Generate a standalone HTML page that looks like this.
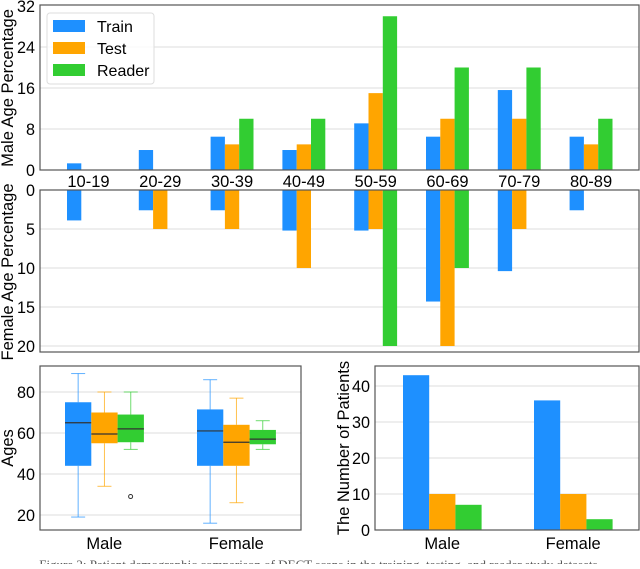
<!DOCTYPE html>
<html><head><meta charset="utf-8"><style>
body{margin:0;background:#fff;}
svg text{font-family:"Liberation Sans",sans-serif;fill:#000;}
</style></head><body>
<svg id="c" width="640" height="564" xmlns="http://www.w3.org/2000/svg"></svg>
<script>
const categories=["10-19","20-29","30-39","40-49","50-59","60-69","70-79","80-89"];
const maleTrain=[1.3,3.9,6.5,3.9,9.1,6.5,15.6,6.5];
const maleTest=[0,0,5,5,15,10,10,5];
const maleReader=[0,0,10,10,30,20,20,10];
const femaleTrain=[3.9,2.6,2.6,5.2,5.2,14.3,10.4,2.6];
const femaleTest=[0,5,5,10,5,20,5,0];
const femaleReader=[0,0,0,0,20,10,0,0];
const maleTicks=[0,8,16,24,32];
const femaleTicks=[0,5,10,15,20];
const sexes=["Male","Female"];
// box stats: [min,q1,median,q3,max]
const boxTrain=[[19,44,65,75,89],[16,44,61,71.5,86]];
const boxTest=[[34,55,59.5,70,80],[26,44,55.5,64,77]];
const boxReader=[[52,55.5,62,69,80],[52,54.5,57,61.5,66]];
const outliers=[[0,2,29]];
const ageTicks=[20,40,60,80];
const countTrain=[43,36];
const countTest=[10,10];
const countReader=[7,3];
const countTicks=[0,10,20,30,40];
const COLORS=["#1e90ff","#ffa500","#32cd32"];
const svg=document.getElementById('c');
const NS="http://www.w3.org/2000/svg";
const FS=16.5;
function mk(tag,attrs,parent,text){const e=document.createElementNS(NS,tag);for(const k in attrs)e.setAttribute(k,attrs[k]);if(text!==undefined)e.textContent=text;(parent||svg).appendChild(e);return e;}
function grp(name){const g=document.createElementNS(NS,'g');svg.appendChild(g);return g;}

const mY=v=>170-v*(164/32);
const fY=v=>190+v*(156/20);
const gx=i=>67+i*71.8;
let g=grp('male-grid');
maleTicks.forEach(t=>{if(t>0&&t<32)mk('line',{x1:40,x2:639,y1:mY(t),y2:mY(t),stroke:'#ddd','stroke-width':1},g);
 const tx=mk('text',{x:35,y:mY(t)+6,'text-anchor':'end','font-size':FS,textLength:String(t).length*9,lengthAdjust:'spacingAndGlyphs'},g,t);});
g=grp('female-grid');
femaleTicks.forEach(t=>{if(t>0)mk('line',{x1:40,x2:639,y1:fY(t),y2:fY(t),stroke:'#ddd','stroke-width':1},g);
 const tx=mk('text',{x:35,y:fY(t)+6,'text-anchor':'end','font-size':FS,textLength:String(t).length*9,lengthAdjust:'spacingAndGlyphs'},g,t);});
const bw=14.3;
g=grp('male-bars');
[maleTrain,maleTest,maleReader].forEach((s,k)=>s.forEach((v,i)=>{if(v<=0)return;const r=mk('rect',{x:gx(i)+k*bw,y:mY(v),width:bw,height:mY(0)-mY(v),fill:COLORS[k]},g);
 }));
g=grp('female-bars');
[femaleTrain,femaleTest,femaleReader].forEach((s,k)=>s.forEach((v,i)=>{if(v<=0)return;const r=mk('rect',{x:gx(i)+k*bw,y:fY(0),width:bw,height:fY(v)-fY(0),fill:COLORS[k]},g);
 }));
g=grp('age-group-labels');
categories.forEach((c,i)=>{const t=mk('text',{x:gx(i)+bw*1.5,y:187,'text-anchor':'middle','font-size':FS},g,c);});
mk('rect',{x:40,y:5,width:599,height:165,fill:'none',stroke:'#555','stroke-width':1.2});
mk('rect',{x:40,y:190,width:599,height:162,fill:'none',stroke:'#555','stroke-width':1.2});
let t=mk('text',{transform:'translate(13,88) rotate(-90)','text-anchor':'middle','font-size':FS},null,'Male Age Percentage');
t=mk('text',{transform:'translate(13,272) rotate(-90)','text-anchor':'middle','font-size':FS},null,'Female Age Percentage');
g=grp('legend');
mk('rect',{x:47,y:13,width:107,height:71,fill:'#fff','fill-opacity':0.85,stroke:'#ddd',rx:3},g);
["Train","Test","Reader"].forEach((n,k)=>{const y=26+k*22;mk('rect',{x:53,y:y-6,width:32,height:12,fill:COLORS[k]},g);
 const tx=mk('text',{x:97,y:y+6,'font-size':16},g,n);});

const aY=v=>392+(80-v)*(123/60);
const bx=(i,k)=>65+i*132+k*26.3;
g=grp('box-grid');
ageTicks.forEach(v=>{mk('line',{x1:40,x2:301,y1:aY(v),y2:aY(v),stroke:'#ddd'},g);mk('text',{x:35,y:aY(v)+6,'text-anchor':'end','font-size':FS,textLength:18,lengthAdjust:'spacingAndGlyphs'},g,v);});
[boxTrain,boxTest,boxReader].forEach((s,k)=>s.forEach((b,i)=>{const x=bx(i,k),w=26.3,c=x+w/2;const bg=grp('box-'+sexes[i].toLowerCase()+'-'+k);
 mk('line',{x1:c,x2:c,y1:aY(b[0]),y2:aY(b[1]),stroke:COLORS[k],'stroke-opacity':0.7},bg);
 mk('line',{x1:c,x2:c,y1:aY(b[3]),y2:aY(b[4]),stroke:COLORS[k],'stroke-opacity':0.7},bg);
 mk('line',{x1:c-7,x2:c+7,y1:aY(b[0]),y2:aY(b[0]),stroke:COLORS[k],'stroke-opacity':0.7},bg);
 mk('line',{x1:c-7,x2:c+7,y1:aY(b[4]),y2:aY(b[4]),stroke:COLORS[k],'stroke-opacity':0.7},bg);
 mk('rect',{x:x,y:aY(b[3]),width:w,height:aY(b[1])-aY(b[3]),fill:COLORS[k]},bg);
 mk('line',{x1:x,x2:x+w,y1:aY(b[2]),y2:aY(b[2]),stroke:'#333','stroke-width':1.2},bg);}));
outliers.forEach(o=>mk('circle',{cx:bx(o[0],o[1])+13,cy:aY(o[2]),r:2,fill:'none',stroke:'#333'}));
mk('rect',{x:40,y:366,width:261,height:164,fill:'none',stroke:'#555','stroke-width':1.2});
sexes.forEach((s,i)=>mk('text',{x:bx(i,1)+13,y:549,'text-anchor':'middle','font-size':FS},null,s));
t=mk('text',{transform:'translate(13,448) rotate(-90)','text-anchor':'middle','font-size':FS},null,'Ages');

const cY=v=>530-v*3.6;
const cx=(i,k)=>403+i*131+k*26.2;
g=grp('count-grid');
countTicks.forEach(v=>{if(v>0)mk('line',{x1:375,x2:639,y1:cY(v),y2:cY(v),stroke:'#ddd'},g);mk('text',{x:370,y:cY(v)+6,'text-anchor':'end','font-size':FS,textLength:String(v).length*9,lengthAdjust:'spacingAndGlyphs'},g,v);});
g=grp('count-bars');
[countTrain,countTest,countReader].forEach((s,k)=>s.forEach((v,i)=>{const r=mk('rect',{x:cx(i,k),y:cY(v),width:26.2,height:cY(0)-cY(v),fill:COLORS[k]},g);
 }));
mk('rect',{x:375,y:366,width:264,height:164,fill:'none',stroke:'#555','stroke-width':1.2});
sexes.forEach((s,i)=>mk('text',{x:cx(i,1)+13,y:549,'text-anchor':'middle','font-size':FS},null,s));
t=mk('text',{transform:'translate(349,448) rotate(-90)','text-anchor':'middle','font-size':FS},null,'The Number of Patients');
t=mk('text',{x:320,y:569,'text-anchor':'middle','font-size':13,style:'font-family:"Liberation Serif",serif;fill:#555'},null,'Figure 2: Patient demographic comparison of DECT scans in the training, testing, and reader study datasets.');

</script>
</body></html>
